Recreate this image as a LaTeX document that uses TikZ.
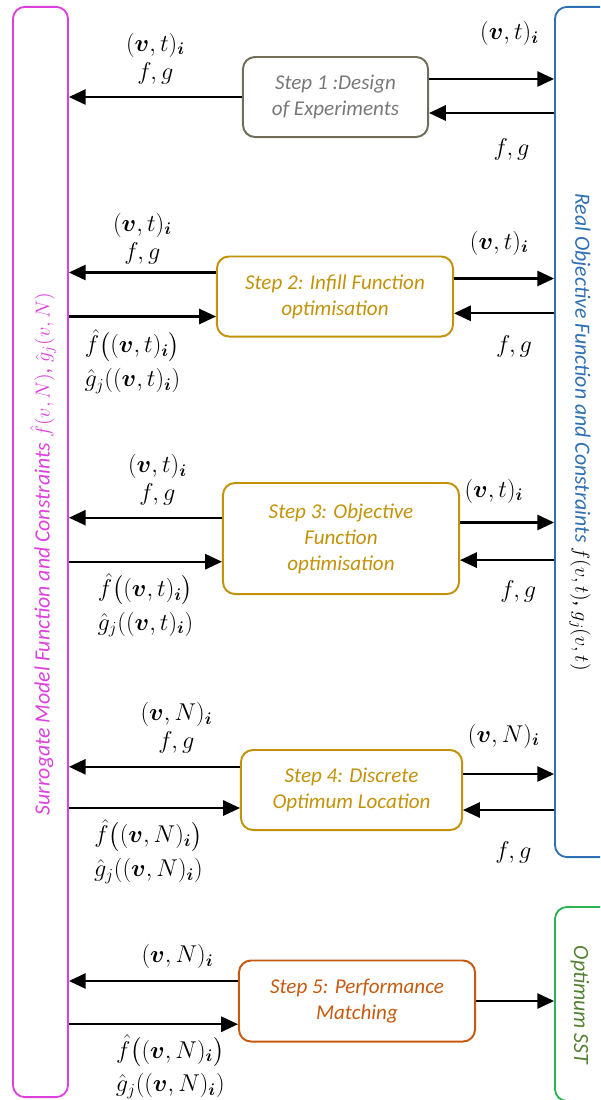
\documentclass[tikz,border=0pt]{standalone}
\usepackage[no-math]{fontspec}
\setmainfont{Carlito}
\usepackage{amsmath,bm}
\usetikzlibrary{arrows.meta,positioning}

\definecolor{surmag}{RGB}{221,64,221}
\definecolor{realblue}{RGB}{46,112,180}
\definecolor{optgreen}{RGB}{40,180,80}
\definecolor{opttext}{RGB}{84,130,53}
\definecolor{doeline}{RGB}{112,110,88}
\definecolor{doetext}{RGB}{120,120,120}
\definecolor{stepgold}{RGB}{194,146,10}
\definecolor{steporange}{RGB}{197,90,17}

\newcommand{\pvt}{(\boldsymbol{v},t)_{\boldsymbol{i}}}
\newcommand{\pvN}{(\boldsymbol{v},N)_{\boldsymbol{i}}}
\newcommand{\fvt}{$\hat{f}\big(\pvt\big)$\\[4pt]$\hat{g}_j(\pvt)$}
\newcommand{\fvN}{$\hat{f}\big(\pvN\big)$\\[4pt]$\hat{g}_j(\pvN)$}

\begin{document}
\begin{tikzpicture}[
    x=0.025cm, y=-0.025cm,
    font=\fontsize{15}{18.5}\selectfont,
    stepbox/.style={draw, line width=1.4pt, rounded corners=0.3cm, align=center, minimum height=2cm, font=\fontsize{15}{18.5}\selectfont\itshape},
    bar/.style={draw, line width=1.3pt, rounded corners=0.3cm},
    vtext/.style={font=\fontsize{15.5}{18.5}\selectfont\itshape},
    flow/.style={-{Triangle[length=0.42cm, width=0.38cm]}, line width=1.6pt},
    lbl/.style={align=center, inner sep=0pt, font=\fontsize{17}{20}\selectfont}
]
    \useasboundingbox (0,0) rectangle (600,1100);
    \clip (0,0) rectangle (600,1100);

    % side bars
    \node[bar, draw=surmag, minimum width=1.375cm, minimum height=27.25cm] (sur) at (40.5,552) {};
    \node[bar, draw=realblue, minimum width=1.8cm, minimum height=21.25cm] (real) at (591,432) {};
    \node[bar, draw=optgreen, minimum width=1.8cm, minimum height=4.85cm] (opt) at (591,1004) {};

    \node[vtext, rotate=90, text=surmag] (surtxt) at (43,554) {Surrogate Model Function and Constraints $\hat{f}(v,N)$, $\hat{g}_j(v,N)$};
    \node[vtext, rotate=-90, text=realblue] (realtxt) at (580,432) {Real Objective Function and Constraints \textcolor{black}{$f(v,t)$, $g_j(v,t)$}};
    \node[vtext, rotate=-90, text=opttext] (opttxt) at (580,1005) {Optimum SST};

    % steps
    \node[stepbox, draw=doeline, text=doetext, minimum width=4.625cm] (s1) at (335.5,97) {Step 1 :Design\\of Experiments};
    \node[stepbox, draw=stepgold, text=stepgold, minimum width=5.9cm] (s2) at (335,296.5) {Step 2: Infill Function\\optimisation};
    \node[stepbox, draw=stepgold, text=stepgold, minimum width=5.9cm, minimum height=2.775cm] (s3) at (341,538.5) {Step 3: Objective\\Function\\optimisation};
    \node[stepbox, draw=stepgold, text=stepgold, minimum width=5.525cm] (s4) at (351.5,790) {Step 4: Discrete\\Optimum Location};
    \node[stepbox, draw=steporange, text=steporange, minimum width=5.9cm, minimum height=2.025cm] (s5) at (357,1001) {Step 5: Performance\\Matching};

    % step 1
    \draw[flow] (s1.west) -- node[lbl, above=0.3cm]{$\pvt$\\$f,g$} (s1.west -| sur.east);
    \draw[flow] ([yshift=0.45cm]s1.east) -- node[lbl, above=0.8cm, xshift=0.45cm]{$\pvt$} ([yshift=0.45cm]s1.east -| real.west);
    \draw[flow] ([yshift=-0.4cm]s1.east -| real.west) -- node[lbl, below=0.6cm, xshift=0.5cm]{$f,g$} ([yshift=-0.4cm]s1.east);

    % step 2
    \draw[flow] ([yshift=0.6cm]s2.west) -- node[lbl, above=0.18cm]{$\pvt$\\$f,g$} ([yshift=0.6cm]s2.west -| sur.east);
    \draw[flow] ([yshift=-0.5cm]s2.west -| sur.east) -- node[lbl, below=0.3cm, xshift=-0.25cm]{\fvt} ([yshift=-0.5cm]s2.west);
    \draw[flow] ([yshift=0.45cm]s2.east) -- node[lbl, above=0.55cm, xshift=-0.12cm]{$\pvt$} ([yshift=0.45cm]s2.east -| real.west);
    \draw[flow] ([yshift=-0.42cm]s2.east -| real.west) -- node[lbl, below=0.52cm, xshift=0.25cm]{$f,g$} ([yshift=-0.42cm]s2.east);

    % step 3
    \draw[flow] ([yshift=0.52cm]s3.west) -- node[lbl, above=0.28cm, xshift=0.3cm]{$\pvt$\\$f,g$} ([yshift=0.52cm]s3.west -| sur.east);
    \draw[flow] ([yshift=-0.58cm]s3.west -| sur.east) -- node[lbl, below=0.26cm]{\fvt} ([yshift=-0.58cm]s3.west);
    \draw[flow] ([yshift=0.4cm]s3.east) -- node[lbl, above=0.45cm, xshift=-0.33cm]{$\pvt$} ([yshift=0.4cm]s3.east -| real.west);
    \draw[flow] ([yshift=-0.54cm]s3.east -| real.west) -- node[lbl, below=0.48cm, xshift=0.28cm]{$f,g$} ([yshift=-0.54cm]s3.east);

    % step 4
    \draw[flow] ([yshift=0.58cm]s4.west) -- node[lbl, above=0.3cm, xshift=0.55cm]{$\pvN$\\$f,g$} ([yshift=0.58cm]s4.west -| sur.east);
    \draw[flow] ([yshift=-0.45cm]s4.west -| sur.east) -- node[lbl, below=0.26cm, xshift=-0.15cm]{\fvN} ([yshift=-0.45cm]s4.west);
    \draw[flow] ([yshift=0.4cm]s4.east) -- node[lbl, above=0.62cm, xshift=-0.12cm]{$\pvN$} ([yshift=0.4cm]s4.east -| real.west);
    \draw[flow] ([yshift=-0.5cm]s4.east -| real.west) -- node[lbl, below=0.75cm, xshift=0.12cm]{$f,g$} ([yshift=-0.5cm]s4.east);

    % step 5
    \draw[flow] ([yshift=0.5cm]s5.west) -- node[lbl, above=0.28cm, xshift=0.6cm]{$\pvN$} ([yshift=0.5cm]s5.west -| sur.east);
    \draw[flow] ([yshift=-0.58cm]s5.west -| sur.east) -- node[lbl, below=0.24cm, xshift=0.42cm]{\fvN} ([yshift=-0.58cm]s5.west);
    \draw[flow] (s5.east) -- (s5.east -| opt.west);
\end{tikzpicture}
\end{document}
